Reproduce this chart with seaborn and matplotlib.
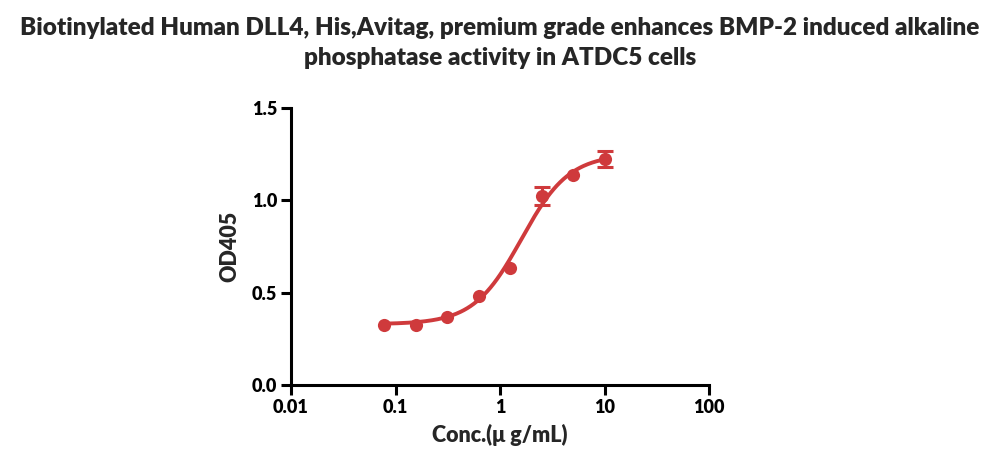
import numpy as np
import pandas as pd
import matplotlib
matplotlib.use("Agg")
import matplotlib.pyplot as plt
import matplotlib.ticker as mticker
import seaborn as sns

# Data
conc = [0.078, 0.156, 0.3125, 0.625, 1.25, 2.5, 5, 10]
od405 = [0.325, 0.325, 0.37, 0.48, 0.635, 1.025, 1.14, 1.225]
od_err = [0.0, 0.0, 0.0, 0.0, 0.0, 0.05, 0.0, 0.045]

# 4PL fit parameters (estimated from the drawn curve)
fit_bottom = 0.33
fit_top = 1.25
fit_ec50 = 1.6
fit_hill = 1.9

RED = "#cf3a3c"

sns.set_style("ticks")
plt.rcParams["font.family"] = ["Lato", "DejaVu Sans"]
plt.rcParams["font.weight"] = "bold"

df = pd.DataFrame({"conc": conc, "od": od405, "err": od_err})
xfit = np.logspace(np.log10(conc[0]), np.log10(conc[-1]), 200)
yfit = fit_bottom + (fit_top - fit_bottom) / (1 + (fit_ec50 / xfit) ** fit_hill)
df_fit = pd.DataFrame({"conc": xfit, "od": yfit})

fig = plt.figure(figsize=(10, 4.72), dpi=100)
ax = fig.add_axes([0.291, 0.184, 0.418, 0.587])

sns.lineplot(data=df_fit, x="conc", y="od", ax=ax, color=RED, linewidth=2.8)
eb = df[df["err"] > 0]
ax.errorbar(eb["conc"], eb["od"], yerr=eb["err"], fmt="none", ecolor=RED,
            elinewidth=2.2, capsize=6, capthick=2.2, zorder=3)
sns.scatterplot(data=df, x="conc", y="od", ax=ax, color=RED, s=90,
                edgecolor=RED, linewidth=0, zorder=4)

ax.set_xscale("log")
ax.set_xlim(0.01, 100)
ax.set_ylim(0, 1.5)
ax.set_xticks([0.01, 0.1, 1, 10, 100])
ax.xaxis.set_major_formatter(mticker.FixedFormatter(["0.01", "0.1", "1", "10", "100"]))
ax.xaxis.set_minor_locator(mticker.NullLocator())
ax.set_yticks([0, 0.5, 1.0, 1.5])
ax.yaxis.set_major_formatter(mticker.FormatStrFormatter("%.1f"))

for side in ["top", "right"]:
    ax.spines[side].set_visible(False)
for side in ["left", "bottom"]:
    ax.spines[side].set_linewidth(2.2)
    ax.spines[side].set_color("black")
ax.tick_params(axis="both", width=2.2, length=7, direction="out",
               labelsize=13, colors="black", pad=3)
for lbl in ax.get_xticklabels() + ax.get_yticklabels():
    lbl.set_fontweight("heavy")

ax.set_xlabel("Conc.(μ g/mL)", fontsize=15.5, fontweight="heavy", labelpad=6)
ax.set_ylabel("OD405", fontsize=15.5, fontweight="heavy", labelpad=8)

fig.suptitle("Biotinylated Human DLL4, His,Avitag, premium grade enhances BMP-2 induced alkaline\n"
             "phosphatase activity in ATDC5 cells",
             fontsize=17.5, fontweight="heavy", y=0.965, linespacing=1.45)

fig.savefig("out.png", dpi=100)
